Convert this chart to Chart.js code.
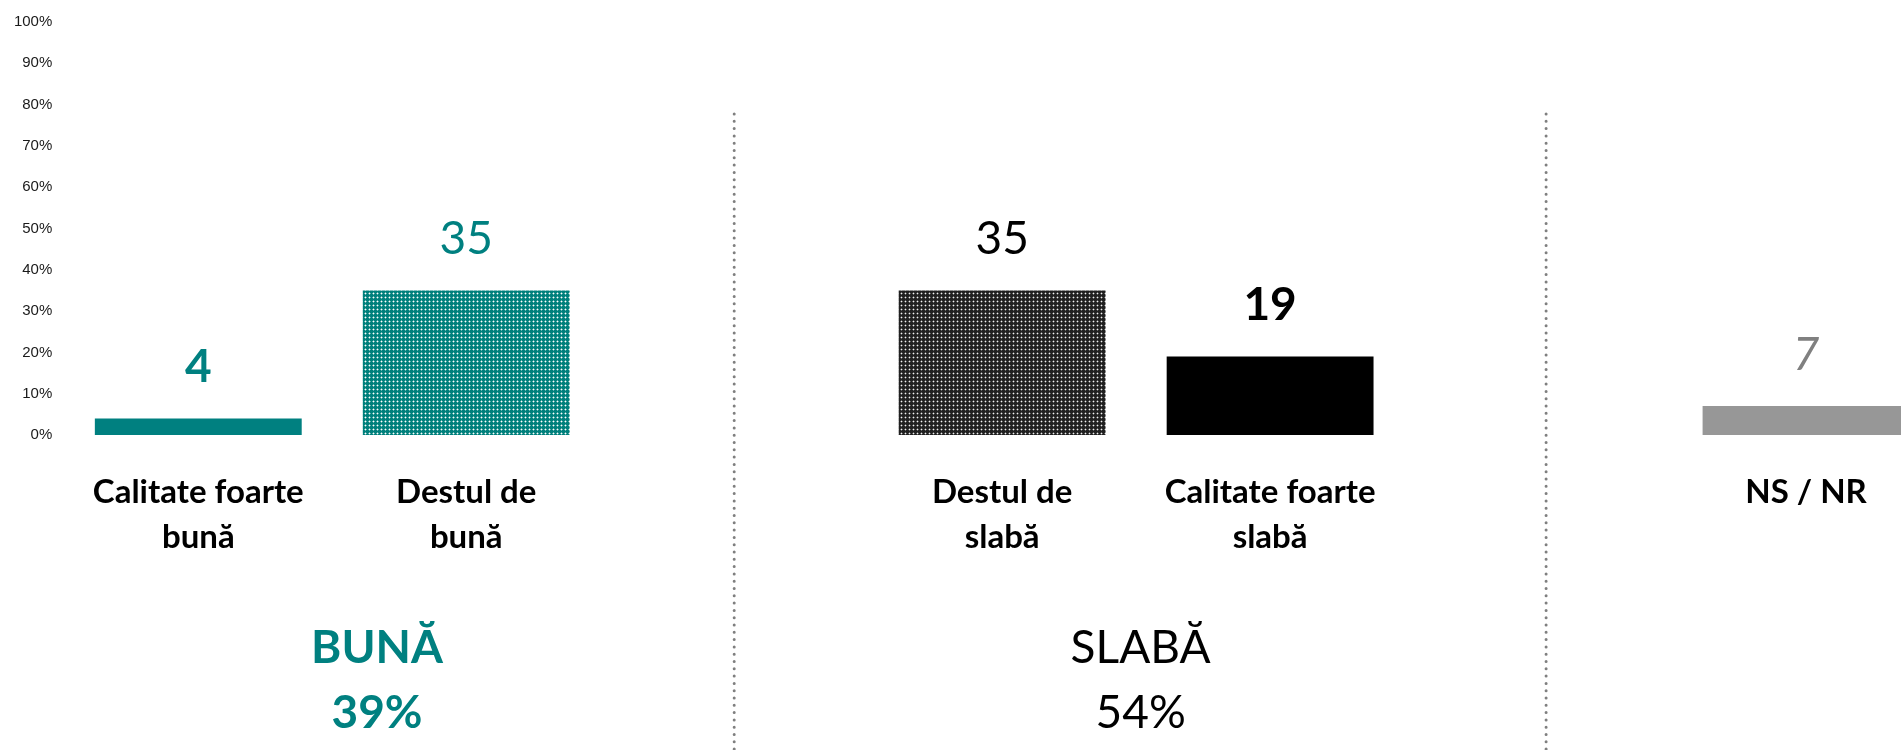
<!DOCTYPE html>
<html>
<head>
<meta charset="utf-8">
<script src="https://cdn.jsdelivr.net/npm/chart.js@4.4.1/dist/chart.umd.min.js"></script>
<style>
  html, body { margin: 0; padding: 0; background: #ffffff; overflow: hidden; }
  #wrap { width: 1940px; height: 750px; }
  canvas { display: block; }
</style>
</head>
<body>
<div id="wrap"><canvas id="c" width="1940" height="750"></canvas></div>
<script>
// ---- data ----
const categories = [
  ['Calitate foarte', 'bună'],
  ['Destul de', 'bună'],
  '',
  ['Destul de', 'slabă'],
  ['Calitate foarte', 'slabă'],
  '',
  'NS / NR'
];
const values = [4, 35, null, 35, 19, null, 7];
const yTicks = [0, 10, 20, 30, 40, 50, 60, 70, 80, 90, 100];
const groupNames = ['BUNĂ', 'SLABĂ'];
const groupMembers = [[0, 1], [3, 4]];

// ---- styles ----
const TEAL = '#008080';
function makePattern(base, dot, half) {
  const t = document.createElement('canvas');
  t.width = 4; t.height = 4;
  const g = t.getContext('2d');
  g.fillStyle = base; g.fillRect(0, 0, 4, 4);
  g.fillStyle = half;
  g.fillRect(0, 1, 3, 1);
  g.fillRect(1, 0, 1, 3);
  g.fillStyle = dot; g.fillRect(1, 1, 1, 1);
  return document.getElementById('c').getContext('2d').createPattern(t, 'repeat');
}
const tealPattern = makePattern('#00807c', '#ffffff', 'rgba(255,255,255,0.4)');
const darkPattern = makePattern('#202020', '#f0f0f0', 'rgba(255,255,255,0.3)');
const barColors = [TEAL, tealPattern, null, darkPattern, '#000000', null, '#979797'];
const labelStyles = [
  { color: TEAL, font: 'bold 46px Lato' },
  { color: TEAL, font: 'normal 46px Lato' },
  null,
  { color: '#000000', font: 'normal 46px Lato' },
  { color: '#000000', font: 'bold 46px Lato' },
  null,
  { color: '#808080', font: 'italic 46px Lato' }
];
const groupStyles = [
  { color: TEAL, font: 'bold 46px Lato', pos: 0.667 },
  { color: '#000000', font: 'normal 46px Lato', pos: 3.517 }
];
const dividerPositions = [2, 5.03];

const overlay = {
  id: 'overlay',
  afterDatasetsDraw(chart) {
    const ctx = chart.ctx;
    const xs = chart.scales.x;
    const meta = chart.getDatasetMeta(0);
    ctx.save();
    // value labels
    meta.data.forEach((bar, i) => {
      const v = values[i];
      if (v === null || !labelStyles[i]) return;
      ctx.font = labelStyles[i].font;
      ctx.fillStyle = labelStyles[i].color;
      ctx.textAlign = 'center';
      ctx.textBaseline = 'middle';
      ctx.fillText(String(v), bar.x, bar.y - 51);
    });
    // dividers
    ctx.strokeStyle = '#7f7f7f';
    ctx.lineWidth = 3;
    ctx.lineCap = 'round';
    ctx.setLineDash([0, 7.3]);
    dividerPositions.forEach(p => {
      const x = xs.getPixelForValue(p);
      ctx.beginPath();
      ctx.moveTo(x, 114);
      ctx.lineTo(x, 750);
      ctx.stroke();
    });
    ctx.setLineDash([]);
    // group labels
    groupNames.forEach((name, gi) => {
      const st = groupStyles[gi];
      const total = groupMembers[gi].reduce((s, k) => s + values[k], 0);
      const x = xs.getPixelForValue(st.pos);
      ctx.font = st.font;
      ctx.fillStyle = st.color;
      ctx.textAlign = 'center';
      ctx.textBaseline = 'middle';
      ctx.fillText(name, x, 648);
      ctx.fillText(total + '%', x, 713);
    });
    ctx.restore();
  }
};

new Chart(document.getElementById('c'), {
  type: 'bar',
  data: {
    labels: categories,
    datasets: [{
      data: values,
      backgroundColor: barColors,
      borderWidth: 0,
      barPercentage: 0.772,
      categoryPercentage: 1.0
    }]
  },
  options: {
    responsive: false,
    animation: false,
    devicePixelRatio: 1,
    layout: { padding: { top: 22, left: 0, right: 0, bottom: 0 } },
    plugins: { legend: { display: false }, tooltip: { enabled: false } },
    scales: {
      x: {
        grid: { display: false, drawTicks: false, drawOnChartArea: false },
        border: { display: false },
        ticks: {
          color: '#000000',
          font: { family: 'Lato', weight: 'bold', size: 33, lineHeight: '45px' },
          padding: 34.5,
          maxRotation: 0,
          autoSkip: false
        },
        afterFit: s => { s.height = 315; }
      },
      y: {
        min: 0, max: 100,
        afterBuildTicks: s => { s.ticks = yTicks.map(v => ({ value: v })); },
        grid: { display: false, drawTicks: false },
        border: { display: false },
        ticks: {
          color: '#1a1a1a',
          font: { family: 'Liberation Sans', size: 15 },
          padding: 12,
          callback: v => v + '%'
        },
        afterFit: s => { s.width = 64.3; }
      }
    }
  },
  plugins: [overlay]
});
</script>
</body>
</html>
